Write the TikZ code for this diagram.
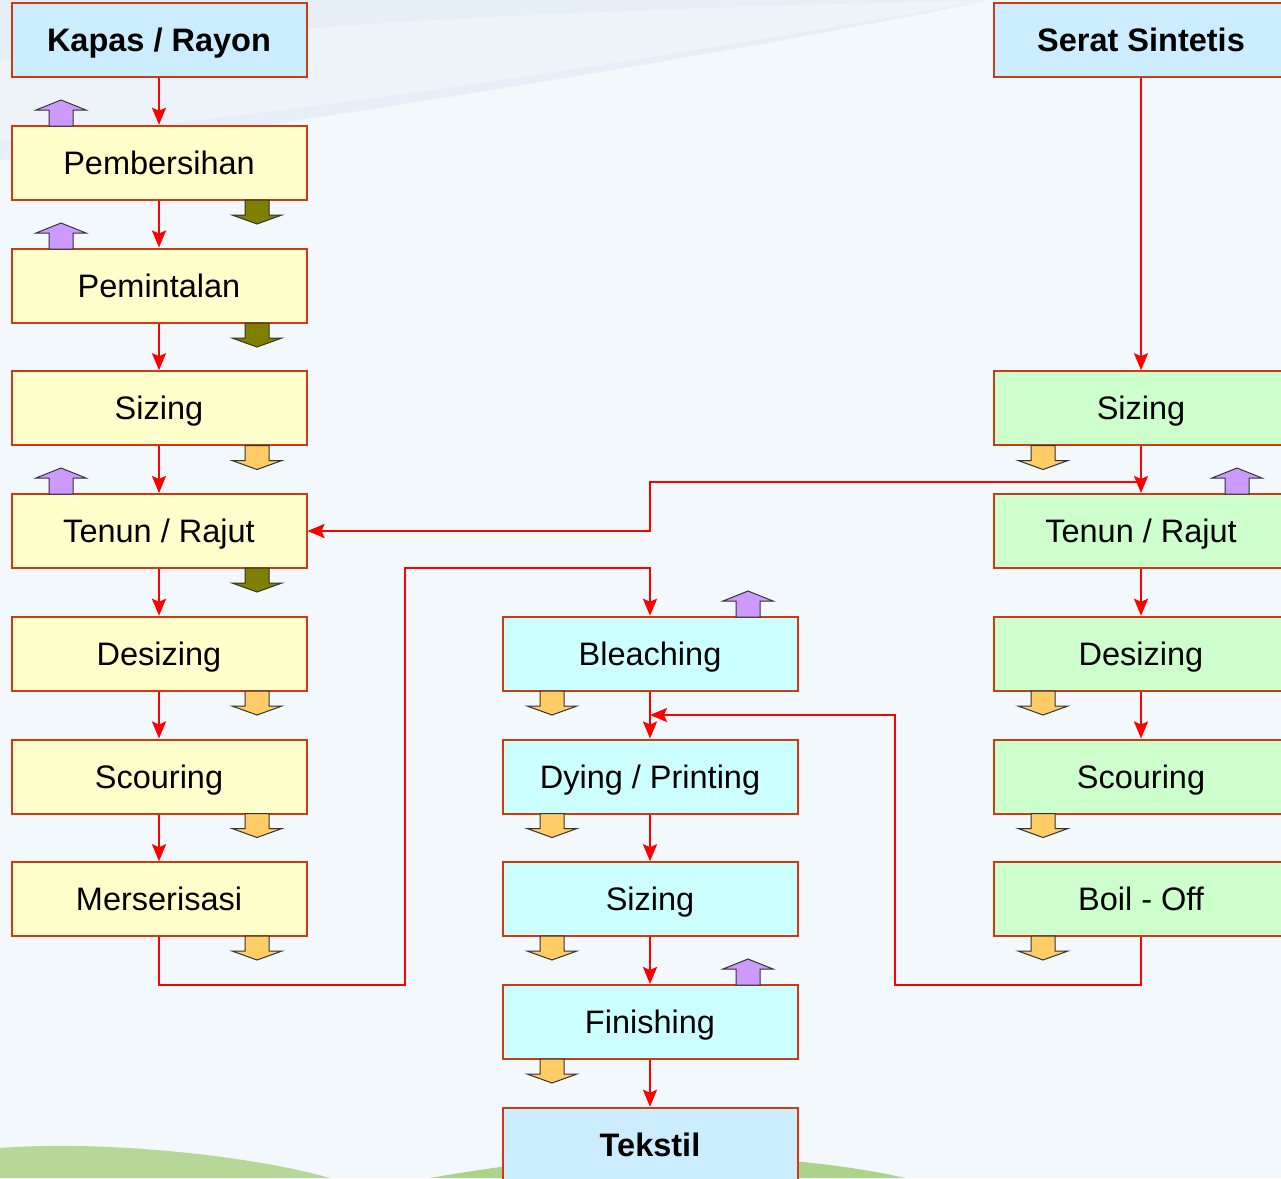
\documentclass[tikz,border=0pt]{standalone}
\usepackage{fontspec}
\setmainfont{Liberation Sans}
\usetikzlibrary{arrows.meta}
\definecolor{bgc}{HTML}{F3F8FC}
\definecolor{swoosh}{HTML}{E3ECF6}
\definecolor{hillc}{HTML}{9CC96E}
\definecolor{bord}{HTML}{D03A10}
\definecolor{topc}{HTML}{CCECFF}
\definecolor{leftc}{HTML}{FFFFCC}
\definecolor{midc}{HTML}{CCFFFF}
\definecolor{rightc}{HTML}{CCFFCC}
\definecolor{purp}{HTML}{CC99FF}
\definecolor{olive}{HTML}{808000}
\definecolor{orng}{HTML}{FFCC66}
\tikzset{
  box/.style={draw=bord, line width=2pt, minimum width=295pt, minimum height=74pt,
    inner sep=0pt, text height=30pt, text depth=7pt, font=\fontsize{32.5}{38}\selectfont},
  topbox/.style={box, fill=topc, font=\fontsize{32.5}{38}\selectfont\bfseries},
  lbox/.style={box, fill=leftc},
  mbox/.style={box, fill=midc},
  rbox/.style={box, fill=rightc},
  conn/.style={draw=red, line width=2.2pt, -{Stealth[length=17pt,width=14pt,inset=3pt]}},
  blk/.style={draw=black!80, line width=1pt, line join=miter},
  pics/uparr/.style={code={\filldraw[blk, fill=#1] (-12,0) -- (-12,-16) -- (-25,-16) -- (0,-26) -- (25,-16) -- (12,-16) -- (12,0) -- cycle;}},
  pics/dnarr/.style={code={\filldraw[blk, fill=#1] (-12,0) -- (-12,15) -- (-25,15) -- (0,24) -- (25,15) -- (12,15) -- (12,0) -- cycle;}},
}
\begin{document}
\begin{tikzpicture}[x=1pt, y=-1pt]
\useasboundingbox (0,0) rectangle (1281,1178);
% background
\fill[bgc] (0,0) rectangle (1281,1178);
\fill[swoosh, opacity=0.8] (0,0) -- (990,0) .. controls (800,40) and (500,90) .. (300,120) .. controls (200,135) and (80,150) .. (0,160) -- cycle;
\fill[white, opacity=0.35] (0,60) .. controls (300,20) and (600,10) .. (990,0) .. controls (700,50) and (350,110) .. (0,140) -- cycle;
\fill[hillc, opacity=0.7] (0,1148) .. controls (100,1140) and (250,1155) .. (330,1178) -- (0,1178) -- cycle;
\fill[hillc, opacity=0.8] (430,1178) .. controls (520,1162) and (600,1155) .. (660,1155) .. controls (760,1155) and (850,1165) .. (905,1178) -- cycle;

% left column
\node[topbox] (L0) at (159,40) {Kapas / Rayon};
\node[lbox] (L1) at (159,162.75) {Pembersihan};
\node[lbox] (L2) at (159,285.5) {Pemintalan};
\node[lbox] (L3) at (159,408.25) {Sizing};
\node[lbox] (L4) at (159,531) {Tenun / Rajut};
\node[lbox] (L5) at (159,653.75) {Desizing};
\node[lbox] (L6) at (159,776.5) {Scouring};
\node[lbox] (L7) at (159,899.25) {Merserisasi};
% middle column
\node[mbox] (C1) at (650,653.75) {Bleaching};
\node[mbox] (C2) at (650,776.5) {Dying / Printing};
\node[mbox] (C3) at (650,899.25) {Sizing};
\node[mbox] (C4) at (650,1022) {Finishing};
\node[topbox] (C5) at (650,1144.75) {Tekstil};
% right column
\node[topbox] (R0) at (1141,40) {Serat Sintetis};
\node[rbox] (R3) at (1141,408.25) {Sizing};
\node[rbox] (R4) at (1141,531) {Tenun / Rajut};
\node[rbox] (R5) at (1141,653.75) {Desizing};
\node[rbox] (R6) at (1141,776.5) {Scouring};
\node[rbox] (R7) at (1141,899.25) {Boil - Off};
\coordinate (J) at (650,715);

% connectors
\draw[conn] (L0) -- (L1);
\draw[conn] (L1) -- (L2);
\draw[conn] (L2) -- (L3);
\draw[conn] (L3) -- (L4);
\draw[conn] (L4) -- (L5);
\draw[conn] (L5) -- (L6);
\draw[conn] (L6) -- (L7);
\draw[conn] (L7.south) |- (405,985) -- (405,568) -| (C1.north);
\draw[conn] (C1) -- (C2);
\draw[conn] (C2) -- (C3);
\draw[conn] (C3) -- (C4);
\draw[conn] (C4) -- (C5);
\draw[conn] (R0) -- (R3);
\draw[conn] (R3) -- (R4);
\draw[conn] (R3.south) -- (1141,482) -- (650,482) -- (650,531) -- (L4.east);
\draw[conn] (R4) -- (R5);
\draw[conn] (R5) -- (R6);
\draw[conn] (R7.south) |- (895,985) -- (895,715) -- (J);

% block arrows, left
\pic at (61,126) {uparr=purp};
\pic at (61,249) {uparr=purp};
\pic at (61,494) {uparr=purp};
\pic at (257,200) {dnarr=olive};
\pic at (257,323) {dnarr=olive};
\pic at (257,445.5) {dnarr=orng};
\pic at (257,568) {dnarr=olive};
\pic at (257,691) {dnarr=orng};
\pic at (257,813.5) {dnarr=orng};
\pic at (257,936) {dnarr=orng};
% middle
\pic at (748,617) {uparr=purp};
\pic at (748,985) {uparr=purp};
\pic at (552,691) {dnarr=orng};
\pic at (552,813.5) {dnarr=orng};
\pic at (552,936) {dnarr=orng};
\pic at (552,1059) {dnarr=orng};
% right
\pic at (1237,494) {uparr=purp};
\pic at (1043,445.5) {dnarr=orng};
\pic at (1043,691) {dnarr=orng};
\pic at (1043,813.5) {dnarr=orng};
\pic at (1043,936) {dnarr=orng};
\end{tikzpicture}
\end{document}
